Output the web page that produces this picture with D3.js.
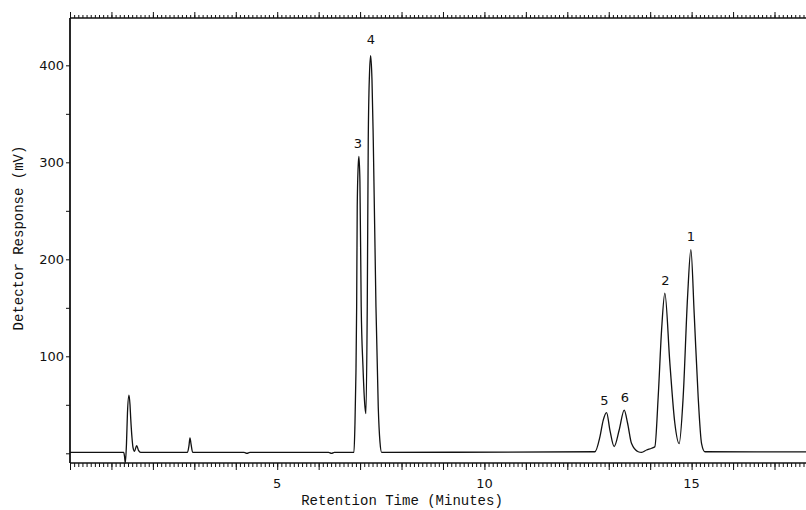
<!DOCTYPE html>
<html>
<head>
<meta charset="utf-8">
<script src="https://cdn.jsdelivr.net/npm/d3@7.9.0/dist/d3.min.js"></script>
<style>
  html, body { margin: 0; padding: 0; background: #fff; }
  svg { display: block; }
  .tick-label { font-family: 'DejaVu Sans', sans-serif; font-size: 13px; fill: #111; }
  .axis-title { font-family: 'Liberation Mono', 'DejaVu Sans Mono', monospace; font-size: 14px; fill: #111; }
</style>
</head>
<body>
<svg id="chart" width="806" height="510"></svg>
<script>
// retention time (min) and detector response (mV)
const retentionTime = [
  0, 1.296, 1.315, 1.334, 1.363, 1.387, 1.423, 1.448, 1.465, 1.496, 1.52, 1.556, 1.609, 1.653, 1.706,
  2.835, 2.871, 2.895, 2.919, 2.96,
  4.2, 4.27, 4.34, 6.24, 6.31, 6.38,
  6.852, 6.876, 6.9, 6.917, 6.931, 6.953, 6.972, 6.996, 7.027, 7.069, 7.117, 7.141,
  7.173, 7.197, 7.226, 7.255, 7.287, 7.318, 7.383, 7.438, 7.479, 7.52,
  12.666, 12.787, 12.866, 12.948, 13.028, 13.131, 13.252, 13.373, 13.455, 13.551, 13.711, 13.793,
  13.913, 14.034, 14.113, 14.193, 14.275, 14.354, 14.475, 14.595, 14.699,
  14.796, 14.902, 14.982, 15.062, 15.158, 15.24, 15.32, 17.76
];
const response = [
  1, 1, -3, -10, 10, 42, 60, 50, 36, 16, 6, 2, 8, 3, 1,
  1, 8, 16, 10, 1,
  1, 0, 1, 1, 0, 1,
  1, 30, 83, 151, 254, 295, 306, 280, 151, 90, 48, 41,
  151, 323, 390, 410, 385, 323, 151, 48, 12, 1,
  1.6, 17, 34, 42, 24, 7, 24, 44.6, 31, 10, 1.6, 1,
  3.4, 5.2, 6.8, 58, 127, 165, 93, 31, 10,
  58, 161, 210, 144, 58, 10, 1.6, 1.5
];

// numbered peaks
const peakNames = ['3', '4', '5', '6', '2', '1'];
const peakTimes = [6.948, 7.262, 12.895, 13.39, 14.366, 14.982];
const peakHeights = [306, 410, 42, 44.6, 165, 210];
const labelGap = [9, 12, 8, 8, 8, 9];

const xLabels = [5, 10, 15];
const yLabels = [100, 200, 300, 400];

const svg = d3.select('#chart');

const x = d3.scaleLinear().domain([0, 17.76]).range([70, 806]);
const y = d3.scaleLinear().domain([-10, 448.8]).range([463, 18]);

const minorX = d3.range(0, 17.8, 0.1).map((d) => Math.round(d * 10) / 10);
const majorX = d3.range(0, 18, 1);

function cleanAxis(g) {
  g.select('.domain').remove();
  g.selectAll('line').attr('stroke', '#111').attr('stroke-width', 1);
}

// bottom axis
svg.append('g').attr('transform', 'translate(0,463)')
  .call(d3.axisBottom(x).tickValues(minorX).tickSize(4).tickFormat(''))
  .call(cleanAxis);
svg.append('g').attr('transform', 'translate(0,463)')
  .call(d3.axisBottom(x).tickValues(majorX).tickSize(7).tickFormat(''))
  .call(cleanAxis);

// top axis
svg.append('g').attr('transform', 'translate(0,18)')
  .call(d3.axisTop(x).tickValues(minorX).tickSize(3).tickFormat(''))
  .call(cleanAxis);
svg.append('g').attr('transform', 'translate(0,18)')
  .call(d3.axisTop(x).tickValues(majorX).tickSize(6).tickFormat(''))
  .call(cleanAxis);

// left axis
svg.append('g').attr('transform', 'translate(70,0)')
  .call(d3.axisLeft(y).tickValues(d3.range(0, 401, 50)).tickSize(4).tickFormat(''))
  .call(cleanAxis);

// frame lines
svg.append('line').attr('x1', 70).attr('x2', 806).attr('y1', 463).attr('y2', 463)
  .attr('stroke', '#111').attr('stroke-width', 1.6);
svg.append('line').attr('x1', 70).attr('x2', 806).attr('y1', 18).attr('y2', 18)
  .attr('stroke', '#111').attr('stroke-width', 1.6);
svg.append('line').attr('x1', 70).attr('x2', 70).attr('y1', 18).attr('y2', 463)
  .attr('stroke', '#111').attr('stroke-width', 1.8);

// tick labels
svg.selectAll('.xl').data(xLabels).join('text')
  .attr('class', 'tick-label')
  .attr('x', (d) => x(d))
  .attr('y', 488)
  .attr('text-anchor', 'middle')
  .text((d) => d);

svg.selectAll('.yl').data(yLabels).join('text')
  .attr('class', 'tick-label')
  .attr('x', 64)
  .attr('y', (d) => y(d))
  .attr('dy', '0.36em')
  .attr('text-anchor', 'end')
  .text((d) => d);

// trace
const points = retentionTime.map((t, i) => [t, response[i]]);
const line = d3.line()
  .x((d) => x(d[0]))
  .y((d) => y(d[1]))
  .curve(d3.curveMonotoneX);

svg.append('path')
  .datum(points)
  .attr('d', line)
  .attr('fill', 'none')
  .attr('stroke', '#111')
  .attr('stroke-width', 1.3);

// peak numbers
svg.selectAll('.pk').data(peakNames).join('text')
  .attr('class', 'tick-label')
  .attr('x', (d, i) => x(peakTimes[i]))
  .attr('y', (d, i) => y(peakHeights[i]) - labelGap[i])
  .attr('text-anchor', 'middle')
  .text((d) => d);

// axis titles
svg.append('text')
  .attr('class', 'axis-title')
  .attr('x', 402)
  .attr('y', 505)
  .attr('text-anchor', 'middle')
  .text('Retention Time (Minutes)');

svg.append('text')
  .attr('class', 'axis-title')
  .attr('transform', 'translate(23,238) rotate(-90)')
  .attr('text-anchor', 'middle')
  .text('Detector Response (mV)');
</script>
</body>
</html>
